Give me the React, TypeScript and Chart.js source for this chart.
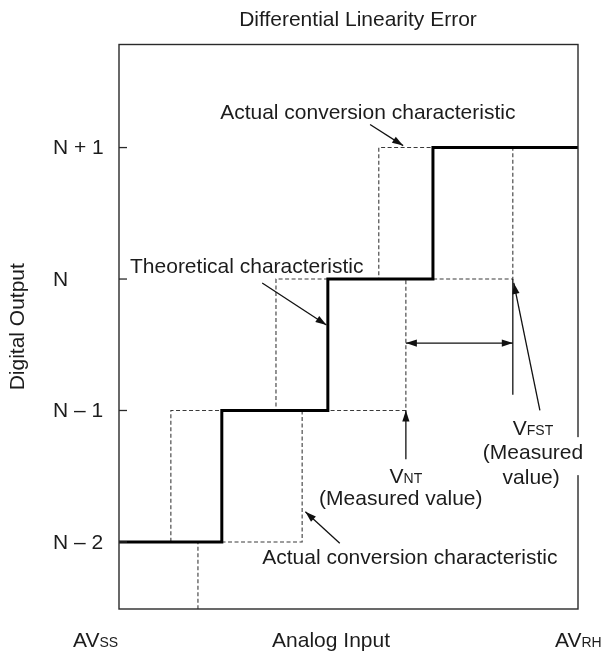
import React, { useEffect, useRef } from 'react';
import { Chart, registerables } from 'chart.js';

Chart.register(...registerables);

const FONT = '"Liberation Sans", Arial, Helvetica, sans-serif';

// ---- data ----
const chartTitle = 'Differential Linearity Error';
const yAxisTitle = 'Digital Output';
const xAxisTitle = 'Analog Input';
const outputCodes = [-2, -1, 0, 1];
const yTickLabels = ['N \u2013 2', 'N \u2013 1', 'N', 'N + 1'];
const xRange = [0, 100];
const yRange = [-2.51, 1.784];
// theoretical characteristic: starting code and input values where the code increments
const theoreticalStart = -2;
const theoreticalTransitions = [22.4, 45.5, 68.4];
// actual conversion characteristics (dashed)
const actualEarlyStart = -2;
const actualEarlyTransitions = [11.3, 34.2, 56.6];
const actualLateStart = -3;
const actualLateTransitions = [17.2, 39.9, 62.5, 85.8];
// measured values
const vNT = actualLateTransitions[2];
const vFST = actualLateTransitions[3];

function stairs(start: number, transitions: number[]) {
  const pts: { x: number; y: number }[] = [{ x: xRange[0], y: start }];
  let code = start;
  transitions.forEach((t) => {
    pts.push({ x: t, y: code });
    code += 1;
    pts.push({ x: t, y: code });
  });
  pts.push({ x: xRange[1], y: code });
  return pts;
}

const BIG = 21;
const SMALL = 14;
const TEXT = '#1c1c1c';
const f = (s: number) => `${s}px ${FONT}`;

function rich(ctx: CanvasRenderingContext2D, parts: [string, number][], x: number, y: number, align: 'left' | 'center') {
  let w = 0;
  parts.forEach(([t, s]) => {
    ctx.font = f(s);
    w += ctx.measureText(t).width;
  });
  let cx = align === 'center' ? x - w / 2 : x;
  const left = cx;
  ctx.textAlign = 'left';
  ctx.textBaseline = 'alphabetic';
  ctx.fillStyle = TEXT;
  parts.forEach(([t, s]) => {
    ctx.font = f(s);
    ctx.fillText(t, cx, y);
    cx += ctx.measureText(t).width;
  });
  return { left, right: left + w };
}

function head(ctx: CanvasRenderingContext2D, x1: number, y1: number, x2: number, y2: number) {
  const a = Math.atan2(y2 - y1, x2 - x1);
  const L = 11;
  const W = 3.6;
  ctx.beginPath();
  ctx.moveTo(x2, y2);
  ctx.lineTo(x2 - L * Math.cos(a) + W * Math.sin(a), y2 - L * Math.sin(a) - W * Math.cos(a));
  ctx.lineTo(x2 - L * Math.cos(a) - W * Math.sin(a), y2 - L * Math.sin(a) + W * Math.cos(a));
  ctx.closePath();
  ctx.fill();
}

function arrow(ctx: CanvasRenderingContext2D, x1: number, y1: number, x2: number, y2: number, both = false) {
  ctx.strokeStyle = '#111';
  ctx.fillStyle = '#111';
  ctx.lineWidth = 1.3;
  ctx.setLineDash([]);
  ctx.beginPath();
  ctx.moveTo(x1, y1);
  ctx.lineTo(x2, y2);
  ctx.stroke();
  head(ctx, x1, y1, x2, y2);
  if (both) head(ctx, x2, y2, x1, y1);
}

const annotationPlugin = {
  id: 'dleAnnotations',
  afterDraw(chart: any) {
    const ctx: CanvasRenderingContext2D = chart.ctx;
    const area = chart.chartArea;
    const xs = chart.scales.x;
    const ys = chart.scales.y;
    const X = (v: number) => xs.getPixelForValue(v);
    const Y = (v: number) => ys.getPixelForValue(v);
    ctx.save();

    // frame
    ctx.strokeStyle = '#2a2a2a';
    ctx.lineWidth = 1.4;
    ctx.setLineDash([]);
    ctx.strokeRect(area.left, area.top, area.right - area.left, area.bottom - area.top);

    // inward ticks + labels
    ctx.lineWidth = 1.3;
    outputCodes.forEach((c, i) => {
      ctx.beginPath();
      ctx.moveTo(area.left, Y(c));
      ctx.lineTo(area.left + 8, Y(c));
      ctx.stroke();
      ctx.font = f(BIG);
      ctx.fillStyle = TEXT;
      ctx.textAlign = 'left';
      ctx.textBaseline = 'middle';
      ctx.fillText(yTickLabels[i], area.left - 66, Y(c) + 1);
    });

    // chart title
    ctx.font = f(BIG);
    ctx.textAlign = 'center';
    ctx.textBaseline = 'alphabetic';
    ctx.fillStyle = TEXT;
    ctx.fillText(chartTitle, (area.left + area.right) / 2 + 9.5, area.top - 18.5);

    // bottom labels
    const by = area.bottom + 38;
    rich(ctx, [['AV', BIG], ['SS', SMALL]], area.left - 46, by, 'left');
    rich(ctx, [[xAxisTitle, BIG]], X(46.2), by, 'center');
    rich(ctx, [['AV', BIG], ['RH', SMALL]], X(95.0), by, 'left');

    // top "Actual conversion characteristic"
    rich(ctx, [['Actual conversion characteristic', BIG]], X(54.2), Y(1.221), 'center');
    arrow(ctx, X(54.7), Y(1.175), X(61.9), Y(1.015));

    // Theoretical characteristic
    rich(ctx, [['Theoretical characteristic', BIG]], X(2.4), Y(0.046), 'left');
    arrow(ctx, X(31.2), Y(-0.03), X(45.2), Y(-0.35));

    // measurement extension line and double arrow
    ctx.strokeStyle = '#111';
    ctx.lineWidth = 1.3;
    ctx.beginPath();
    ctx.moveTo(X(vFST), Y(0));
    ctx.lineTo(X(vFST), Y(-0.88));
    ctx.stroke();
    arrow(ctx, X(vNT), Y(-0.487), X(vFST), Y(-0.487), true);

    // V_FST
    arrow(ctx, X(91.7), Y(-1.0), X(vFST + 0.2), Y(-0.03));
    rich(ctx, [['V', BIG], ['FST', SMALL]], X(90.2), Y(-1.19), 'center');
    ctx.font = f(BIG);
    const mw = ctx.measureText('(Measured').width;
    ctx.fillStyle = '#ffffff';
    ctx.fillRect(X(90.2) - mw / 2 - 3, Y(-1.37) - 22, mw + 6, 38);
    rich(ctx, [['(Measured', BIG]], X(90.2), Y(-1.37), 'center');
    rich(ctx, [['value)', BIG]], X(89.8), Y(-1.56), 'center');

    // V_NT
    arrow(ctx, X(vNT), Y(-1.37), X(vNT), Y(-1));
    rich(ctx, [['V', BIG], ['NT', SMALL]], X(vNT), Y(-1.55), 'center');
    rich(ctx, [['(Measured value)', BIG]], X(61.4), Y(-1.72), 'center');

    // bottom "Actual conversion characteristic"
    rich(ctx, [['Actual conversion characteristic', BIG]], X(31.2), Y(-2.17), 'left');
    arrow(ctx, X(48.1), Y(-2.01), X(40.6), Y(-1.77));

    ctx.restore();
  },
};

export default function App() {
  const ref = useRef<HTMLCanvasElement | null>(null);
  useEffect(() => {
    document.body.style.margin = '0';
    document.body.style.overflow = 'hidden';
    if (!ref.current) return;
    const chart = new Chart(ref.current, {
      type: 'line',
      data: {
        datasets: [
          {
            label: 'Theoretical characteristic',
            data: stairs(theoreticalStart, theoreticalTransitions),
            borderColor: '#000',
            borderWidth: 3,
            pointRadius: 0,
            fill: false,
            tension: 0,
            order: 0,
          },
          {
            label: 'Actual conversion characteristic (early)',
            data: stairs(actualEarlyStart, actualEarlyTransitions),
            borderColor: '#3a3a3a',
            borderWidth: 1.1,
            borderDash: [4, 2.5],
            pointRadius: 0,
            fill: false,
            tension: 0,
            order: 1,
          },
          {
            label: 'Actual conversion characteristic (late)',
            data: stairs(actualLateStart, actualLateTransitions),
            borderColor: '#3a3a3a',
            borderWidth: 1.1,
            borderDash: [4, 2.5],
            pointRadius: 0,
            fill: false,
            tension: 0,
            order: 2,
          },
        ],
      },
      options: {
        animation: false,
        responsive: true,
        maintainAspectRatio: false,
        layout: { padding: { top: 44.5, right: 36, bottom: 43, left: 0 } },
        plugins: { legend: { display: false }, tooltip: { enabled: false }, title: { display: false } },
        scales: {
          x: {
            type: 'linear',
            display: false,
            min: xRange[0],
            max: xRange[1],
          },
          y: {
            type: 'linear',
            display: true,
            min: yRange[0],
            max: yRange[1],
            grid: { display: false },
            border: { display: false },
            ticks: { display: false },
            title: {
              display: true,
              text: yAxisTitle,
              color: TEXT,
              font: { family: FONT, size: BIG },
              padding: { top: 6, bottom: 0 },
            },
            afterFit: (s: any) => {
              s.width = 119;
            },
          },
        },
      },
      plugins: [annotationPlugin],
    });
    return () => chart.destroy();
  }, []);
  return (
    <div style={{ position: 'relative', width: 614, height: 652 }}>
      <canvas ref={ref} />
    </div>
  );
}
